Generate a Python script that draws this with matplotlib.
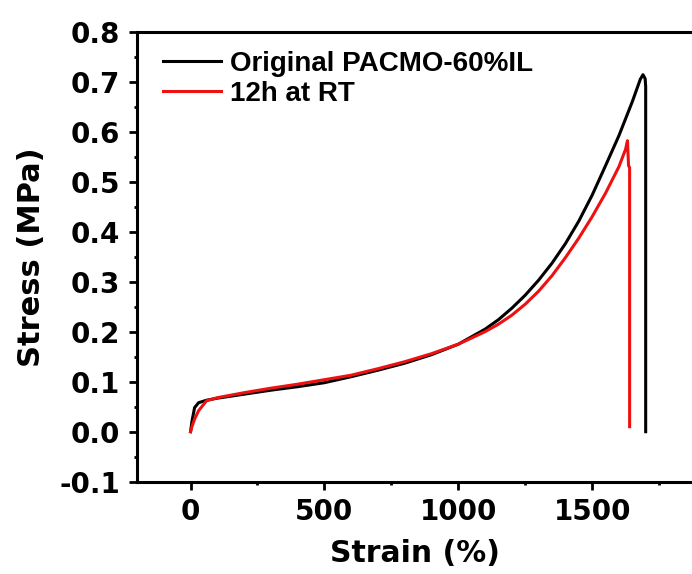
import matplotlib
matplotlib.use("Agg")
import matplotlib.pyplot as plt
from matplotlib.ticker import MultipleLocator

# tensile curves
strain_orig = [0, 5, 15, 30, 60, 100, 200, 300, 400, 500, 600, 700, 800, 900,
               1000, 1100, 1150, 1200, 1250, 1300, 1350, 1400, 1450, 1500,
               1550, 1600, 1650, 1680, 1690, 1698, 1700, 1700]
stress_orig = [0.0, 0.02, 0.048, 0.058, 0.063, 0.067, 0.075, 0.083, 0.090,
               0.098, 0.110, 0.123, 0.137, 0.154, 0.175, 0.205, 0.224, 0.247,
               0.273, 0.303, 0.337, 0.376, 0.421, 0.473, 0.532, 0.592, 0.660,
               0.705, 0.714, 0.706, 0.69, 0.0]

strain_rt = [0, 5, 15, 30, 60, 100, 200, 300, 400, 500, 600, 700, 800, 900,
             1000, 1100, 1150, 1200, 1250, 1300, 1350, 1400, 1450, 1500,
             1550, 1600, 1625, 1632, 1636, 1640, 1640]
stress_rt = [0.0, 0.01, 0.025, 0.042, 0.062, 0.068, 0.078, 0.087, 0.095,
             0.104, 0.113, 0.126, 0.140, 0.156, 0.175, 0.200, 0.215, 0.233,
             0.255, 0.281, 0.312, 0.348, 0.387, 0.430, 0.477, 0.530, 0.565,
             0.582, 0.532, 0.528, 0.01]

labels = ["Original PACMO-60%IL", "12h at RT"]
colors = ["black", "#ee1111"]

fig = plt.figure(figsize=(6.92, 5.74), dpi=100)
ax = fig.add_axes([0.198, 0.1608, 0.802, 0.784])

ax.plot(strain_orig, stress_orig, color=colors[0], lw=2.2, label=labels[0])
ax.plot(strain_rt, stress_rt, color=colors[1], lw=2.2, label=labels[1])

ax.set_xlim(-200, 1873)
ax.set_ylim(-0.1, 0.8)
ax.xaxis.set_major_locator(MultipleLocator(500))
ax.xaxis.set_minor_locator(MultipleLocator(250))
ax.yaxis.set_minor_locator(MultipleLocator(0.05))
ax.set_yticks([-0.1, 0.0, 0.1, 0.2, 0.3, 0.4, 0.5, 0.6, 0.7, 0.8])
ax.set_yticklabels([f"{v:.1f}" for v in ax.get_yticks()])

ax.spines["right"].set_visible(False)
for s in ["left", "bottom", "top"]:
    ax.spines[s].set_linewidth(2.2)

ax.tick_params(which="major", direction="out", length=6, width=2,
               top=False, right=False, labelsize=20, pad=6)
ax.tick_params(which="minor", direction="out", length=2.5, width=2,
               top=False, right=False)
for lab in ax.get_xticklabels() + ax.get_yticklabels():
    lab.set_fontweight("bold")
    lab.set_family("DejaVu Sans")

ax.set_xlabel("Strain (%)", fontsize=21.5, fontweight="bold", labelpad=9)
ax.set_ylabel("Stress (MPa)", fontsize=22, fontweight="bold", labelpad=10)

leg = ax.legend(loc="upper left", bbox_to_anchor=(0.047, 0.958),
                frameon=False, borderpad=0, borderaxespad=0,
                handlelength=2.1, handletextpad=0.3, labelspacing=0.15,
                prop={"family": "Liberation Sans", "weight": "bold",
                      "size": 20})
for line in leg.get_lines():
    line.set_linewidth(2.2)

fig.savefig("out.png", dpi=100)
